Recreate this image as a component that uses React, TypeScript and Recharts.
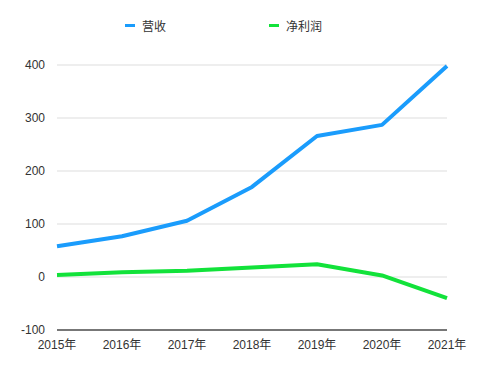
import React from 'react';
import { LineChart, Line, XAxis, YAxis, CartesianGrid, Legend } from 'recharts';

const years = ['2015年', '2016年', '2017年', '2018年', '2019年', '2020年', '2021年'];
const revenue = [58, 77, 106, 170, 266, 287, 398];
const netProfit = [4, 9, 12, 18, 24, 3, -40];
const yTicks = [-100, 0, 100, 200, 300, 400];
const seriesNames = ['营收', '净利润'];

const data = years.map((y, i) => ({ year: y, [seriesNames[0]]: revenue[i], [seriesNames[1]]: netProfit[i] }));

const FONT = "Helvetica, Arial, 'Liberation Sans', 'Noto Sans CJK SC', sans-serif";
const BLUE = '#1a9cfc';
const GREEN = '#12e23a';

const LegendContent = (props: any) => {
  const items = [...(props.payload || [])].sort(
    (a: any, b: any) => seriesNames.indexOf(a.value) - seriesNames.indexOf(b.value)
  );
  return (
    <div style={{ height: 30, display: 'flex', alignItems: 'center', justifyContent: 'center', gap: 103, fontFamily: FONT, fontSize: 12, color: '#333' }}>
      {items.map((it: any) => (
        <div key={it.value} style={{ display: 'flex', alignItems: 'center' }}>
          <span style={{ display: 'inline-block', width: 10, height: 3, background: it.color, marginRight: 7 }} />
          <span>{it.value}</span>
        </div>
      ))}
    </div>
  );
};

export default function App() {
  return (
    <div style={{ position: 'absolute', left: 0, top: 0, background: '#fff' }}>
      <LineChart width={484} height={385} data={data} margin={{ top: 10, right: 37, bottom: 25, left: 0 }}>
        <CartesianGrid horizontal vertical={false} stroke="#dddddd" />
        <XAxis
          dataKey="year"
          stroke="#000"
          axisLine={{ stroke: '#000', strokeWidth: 1 }}
          tickLine={false}
          tickMargin={4}
          tick={{ fill: '#333', fontSize: 12, fontFamily: FONT }}
          interval={0}
        />
        <YAxis
          width={57}
          domain={[-100, 400]}
          ticks={yTicks}
          axisLine={false}
          tickLine={false}
          tickMargin={6}
          tick={{ fill: '#333', fontSize: 12, fontFamily: FONT }}
        />
        <Legend verticalAlign="top" height={55} content={<LegendContent />} />
        <Line type="linear" dataKey={seriesNames[0]} stroke={BLUE} strokeWidth={4} dot={false} activeDot={false} isAnimationActive={false} strokeLinejoin="round" />
        <Line type="linear" dataKey={seriesNames[1]} stroke={GREEN} strokeWidth={4} dot={false} activeDot={false} isAnimationActive={false} strokeLinejoin="round" />
      </LineChart>
    </div>
  );
}
